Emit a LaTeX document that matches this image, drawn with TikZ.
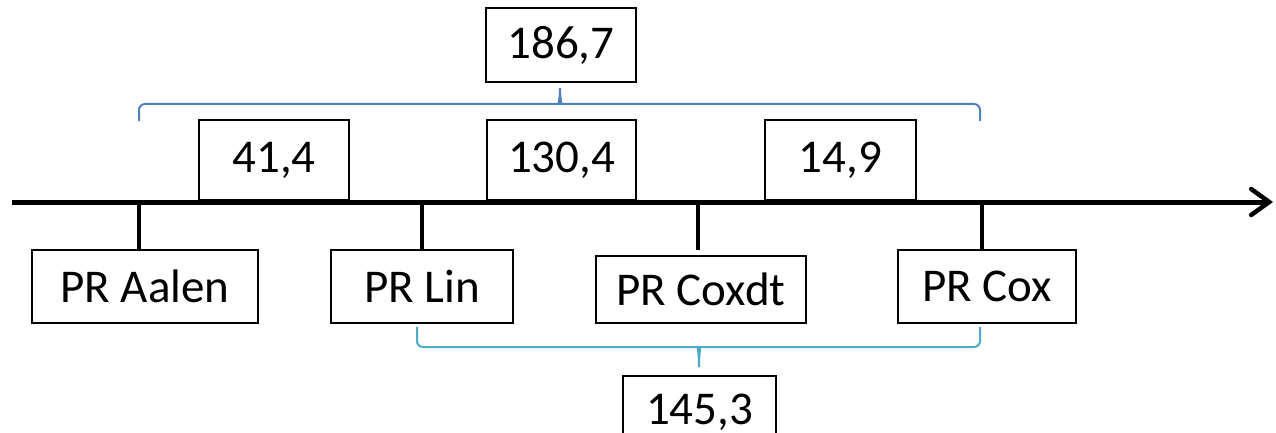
\documentclass[tikz,border=0pt]{standalone}
\usepackage{fontspec}
\setmainfont{Carlito}
\usetikzlibrary{arrows.meta}
\definecolor{braceblue}{HTML}{4F81BD}
\definecolor{braceteal}{HTML}{4BACC6}
\begin{document}
\begin{tikzpicture}[x=1pt,y=-1pt,
  box/.style={draw=black, line width=1.8pt, inner sep=0pt, fill=white,
    font=\fontsize{47}{50}\selectfont},
  axisline/.style={line width=5pt, -{Straight Barb[length=18pt,width=26pt,line cap=round,line width=4.5pt]}},
  tickline/.style={line width=4pt},
  bracepath/.style={line width=2pt, rounded corners=6pt}]
\useasboundingbox (0,0) rectangle (1276,433);
\clip (0,0) rectangle (1276,433);

% interval boxes above the axis
\node[box, minimum width=150, minimum height=80] (d1) at (274,160) {41,4};
\node[box, minimum width=149, minimum height=80] (d2) at (561.5,160) {130,4};
\node[box, minimum width=151, minimum height=80] (d3) at (840.5,160) {14,9};
\node[box, minimum width=150, minimum height=74] (total) at (561,45) {186,7};

% time axis
\coordinate (a0) at (12,202);
\coordinate (a1) at (1273,202);
\draw[axisline] (a0) -- (a1);

% events below the axis
\node[box, minimum width=226, minimum height=73] (aalen) at (145,286.5) {PR Aalen};
\node[box, minimum width=182, minimum height=73] (lin) at (422,286.5) {PR Lin};
\node[box, minimum width=210, minimum height=67] (coxdt) at (701,289.5) {PR Coxdt};
\node[box, minimum width=178, minimum height=73] (cox) at (987,286.5) {PR Cox};

\coordinate (t1) at (139,202);
\coordinate (t2) at (422,202);
\coordinate (t3) at (698,202);
\coordinate (t4) at (982,202);
\draw[tickline] (t1) -- (t1 |- aalen.north);
\draw[tickline] (t2) -- (t2 |- lin.north);
\draw[tickline] (t3) -- (698,250);
\draw[tickline] (t4) -- (t4 |- cox.north);

% upper brace: Aalen to Cox
\coordinate (bl) at (139,121);
\coordinate (br) at (980,121);
\coordinate (bt) at (560,88);
\draw[braceblue, bracepath] (bl) -- (139,104) -- (553,104)
  .. controls (558,104) and (560,100) .. (bt);
\draw[braceblue, bracepath] (br) -- (980,104) -- (567,104)
  .. controls (562,104) and (560,100) .. (bt);

% lower brace: Lin to Cox
\node[box, minimum width=153, minimum height=72] (sub) at (699.5,412) {145,3};
\coordinate (cl) at (417,327);
\coordinate (cr) at (980,327);
\coordinate (ct) at (699,367);
\draw[braceteal, bracepath] (cl) -- (417,347) -- (692,347)
  .. controls (697,347) and (699,351) .. (ct);
\draw[braceteal, bracepath] (cr) -- (980,347) -- (706,347)
  .. controls (701,347) and (699,351) .. (ct);
\end{tikzpicture}
\end{document}
